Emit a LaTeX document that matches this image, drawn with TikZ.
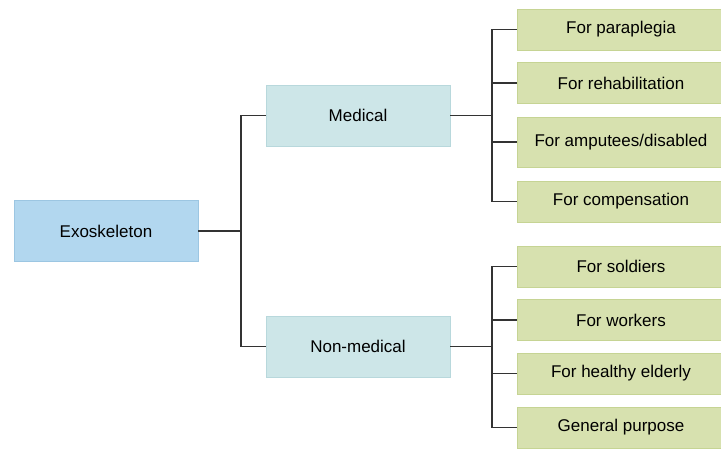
\documentclass[tikz,border=0pt]{standalone}
\usepackage{fontspec}
\setmainfont{Liberation Sans}
\usepackage{xcolor}
\usepackage{tikz}
\usetikzlibrary{positioning}
\definecolor{rootblue}{HTML}{B2D7EF}
\definecolor{rootedge}{HTML}{9CC6E2}
\definecolor{midteal}{HTML}{CDE6E8}
\definecolor{midedge}{HTML}{B8D8DC}
\definecolor{leafgreen}{HTML}{D7E1AF}
\definecolor{leafedge}{HTML}{C6D494}
\definecolor{linkgray}{HTML}{333333}
\tikzset{
  rootbox/.style={draw=rootedge, fill=rootblue, line width=0.8pt,
    minimum width=184, minimum height=61, inner sep=0pt},
  midbox/.style={draw=midedge, fill=midteal, line width=0.8pt,
    minimum width=184, minimum height=61, inner sep=0pt},
  leafbox/.style={draw=leafedge, fill=leafgreen, line width=0.8pt,
    minimum width=208, minimum height=41, inner sep=0pt},
  link/.style={draw=linkgray, line width=1.6pt}
}
\def\leafx{621}
\def\busx{492}

\begin{document}
\begin{tikzpicture}[x=1pt, y=-1pt, font=\fontsize{17}{20}\selectfont]
		\useasboundingbox (0,0) rectangle (721,448);
		% tree boxes
		\node[rootbox] (exo) at (106,231) {Exoskeleton};
		\node[midbox] (med) at (358,115.5) {Medical};
		\node[midbox] (non) at (358,346.5) {Non-medical};
		\node[leafbox] (m1) at (\leafx,29.5) {For paraplegia};
		\node[leafbox] (m2) at (\leafx,83) {For rehabilitation};
		\node[leafbox, minimum height=50] (m3) at (\leafx,142) {For amputees/disabled};
		\node[leafbox] (m4) at (\leafx,201.5) {For compensation};
		\node[leafbox] (n1) at (\leafx,266.5) {For soldiers};
		\node[leafbox] (n2) at (\leafx,320) {For workers};
		\node[leafbox] (n3) at (\leafx,373.5) {For healthy elderly};
		\node[leafbox] (n4) at (\leafx,427.5) {General purpose};
		% connectors
		\coordinate (t0) at (241,231);
		\coordinate (tm) at (\busx,115.5);
		\coordinate (tn) at (\busx,346.5);
		\draw[link] (exo) -- (t0);
		\draw[link] (med.west) -| (t0) |- (non.west);
		\draw[link] (med) -- (tm);
		\draw[link] (non) -- (tn);
		\foreach \leaf in {m1,m2,m3,m4} {
			\draw[link] (tm) |- (\leaf.west);
		}
		\foreach \leaf in {n1,n2,n3,n4} {
			\draw[link] (tn) |- (\leaf.west);
		}
	\end{tikzpicture}
\end{document}
